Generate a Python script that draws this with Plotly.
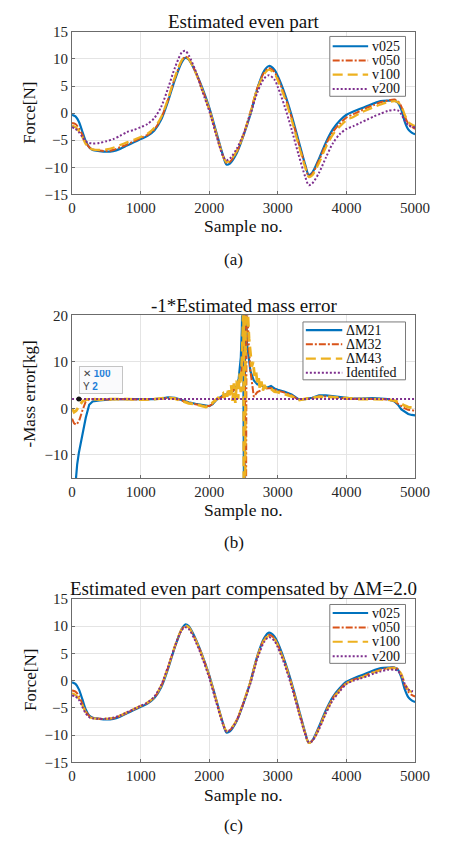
import plotly.graph_objects as go

W, H = 455, 845

# ---------------- data ----------------
sample_grid = [0, 50, 100, 150, 200, 250, 300, 400, 500, 600, 700, 800, 900, 1000, 1100, 1200,
               1300, 1400, 1500, 1600, 1650, 1700, 1800, 1900, 2000, 2100, 2200, 2250, 2300, 2400,
               2500, 2600, 2700, 2800, 2870, 2950, 3000, 3100, 3200, 3300, 3400, 3450, 3500, 3600,
               3700, 3800, 3900, 4000, 4100, 4200, 4300, 4400, 4500, 4600, 4700, 4750, 4800, 4850,
               4900, 4950, 5000]

# (a) Estimated even part
even_v025 = [-0.3, -0.6, -1.6, -3.4, -5.2, -6.3, -6.8, -7.0, -7.1, -7.0, -6.6, -6.0, -5.4, -4.8, -4.2, -3.2,
             -1.2, 2.2, 6.2, 9.4, 10.2, 9.9, 7.6, 4.6, 1.0, -3.4, -7.8, -9.5, -9.3, -7.4,
             -4.1, -0.2, 4.5, 7.8, 8.7, 8.0, 6.8, 3.6, -0.4, -5.0, -9.6, -11.4, -11.0, -8.4,
             -5.4, -3.0, -1.4, -0.3, 0.3, 0.8, 1.3, 1.8, 2.2, 2.3, 2.3, 1.9, 0.6, -1.6,
             -3.0, -3.6, -3.9]
even_v050 = [-1.8, -2.0, -2.8, -4.0, -5.4, -6.3, -6.7, -6.9, -7.0, -6.8, -6.3, -5.8, -5.2, -4.6, -4.0, -3.0,
             -0.9, 2.5, 6.5, 9.7, 10.4, 10.0, 7.6, 4.4, 0.8, -3.6, -7.9, -9.2, -9.0, -7.2,
             -4.0, 0.2, 4.6, 7.5, 8.3, 7.6, 6.4, 3.2, -0.8, -5.4, -9.8, -11.6, -11.2, -8.7,
             -5.8, -3.5, -2.0, -0.8, -0.2, 0.4, 1.0, 1.5, 2.0, 2.3, 2.5, 2.2, 1.2, -0.6,
             -1.9, -2.5, -2.9]
even_v100 = [-2.3, -2.6, -3.3, -4.4, -5.7, -6.4, -6.7, -6.8, -6.7, -6.4, -5.9, -5.4, -4.9, -4.4, -3.8, -2.7,
             -0.7, 2.7, 6.7, 9.8, 10.4, 10.0, 7.5, 4.2, 0.6, -3.8, -7.9, -9.0, -8.8, -7.0,
             -3.9, 0.1, 4.4, 7.2, 8.0, 7.3, 6.0, 2.8, -1.2, -5.8, -10.1, -11.8, -11.5, -9.2,
             -6.3, -4.0, -2.5, -1.3, -0.7, 0.0, 0.6, 1.1, 1.6, 2.0, 2.2, 2.0, 1.3, -0.3,
             -1.6, -2.1, -2.4]
even_v200 = [-2.6, -2.9, -3.5, -4.4, -5.2, -5.5, -5.6, -5.5, -5.2, -4.8, -4.2, -3.5, -3.1, -2.6, -2.0, -0.9,
             1.2, 4.6, 8.4, 11.2, 11.5, 10.7, 7.8, 4.0, 0.4, -4.0, -7.9, -8.7, -8.4, -6.6,
             -3.8, -0.2, 3.8, 6.4, 7.0, 6.2, 4.8, 1.2, -3.0, -7.6, -11.8, -13.3, -13.0, -11.0,
             -8.2, -5.6, -3.9, -2.9, -2.4, -1.8, -1.2, -0.6, -0.1, 0.4, 0.6, 0.5, -0.2, -1.4,
             -2.2, -2.5, -2.6]

# (c) Estimated even part compensated by dM = 2.0
comp_v025 = [-0.3, -0.6, -1.6, -3.4, -5.3, -6.4, -6.8, -7.0, -7.1, -7.0, -6.6, -6.0, -5.4, -4.8, -4.2, -3.2,
             -1.2, 2.2, 6.2, 9.5, 10.3, 10.0, 7.7, 4.6, 1.0, -3.4, -7.8, -9.5, -9.3, -7.4,
             -4.1, -0.2, 4.5, 7.8, 8.8, 8.1, 6.9, 3.6, -0.4, -5.0, -9.6, -11.4, -11.0, -8.4,
             -5.4, -3.0, -1.4, -0.2, 0.4, 0.9, 1.4, 1.9, 2.3, 2.4, 2.4, 2.0, 0.6, -1.6,
             -3.0, -3.6, -3.9]
comp_v050 = [-1.8, -2.0, -2.8, -4.2, -5.6, -6.5, -6.8, -7.0, -7.0, -6.9, -6.5, -5.9, -5.3, -4.7, -4.1, -3.1,
             -1.0, 2.4, 6.3, 9.4, 10.0, 9.8, 7.5, 4.5, 0.9, -3.5, -7.9, -9.3, -9.1, -7.3,
             -4.0, -0.1, 4.4, 7.6, 8.4, 7.8, 6.6, 3.4, -0.6, -5.2, -9.7, -11.4, -11.0, -8.6,
             -5.6, -3.2, -1.6, -0.4, 0.2, 0.6, 1.1, 1.6, 2.0, 2.3, 2.4, 2.1, 1.0, -0.8,
             -2.0, -2.6, -2.9]
comp_v100 = [-2.3, -2.6, -3.3, -4.5, -5.8, -6.6, -6.9, -7.0, -7.0, -6.8, -6.4, -5.8, -5.2, -4.6, -4.0, -3.0,
             -0.9, 2.5, 6.4, 9.5, 10.1, 9.8, 7.5, 4.4, 0.8, -3.6, -7.9, -9.2, -9.0, -7.2,
             -3.9, -0.2, 4.3, 7.4, 8.2, 7.6, 6.4, 3.2, -0.8, -5.4, -9.8, -11.4, -11.1, -8.8,
             -5.8, -3.4, -1.8, -0.5, 0.1, 0.5, 1.0, 1.5, 1.9, 2.2, 2.3, 2.1, 1.2, -0.5,
             -1.6, -2.1, -2.3]
comp_v200 = [-2.7, -2.9, -3.5, -4.8, -6.0, -6.7, -6.9, -7.0, -7.0, -6.8, -6.4, -5.8, -5.2, -4.6, -4.0, -2.9,
             -0.8, 2.6, 6.3, 9.3, 9.8, 9.5, 7.2, 4.1, 0.5, -3.9, -8.0, -9.3, -9.1, -7.3,
             -4.1, -0.5, 4.0, 7.1, 8.0, 7.3, 6.1, 2.9, -1.1, -5.6, -9.9, -11.3, -11.1, -8.9,
             -6.0, -3.6, -2.0, -0.6, 0.0, 0.4, 0.8, 1.3, 1.7, 2.0, 2.0, 1.8, 0.9, -0.6,
             -1.6, -1.9, -2.0]

# (b) -1 * Estimated mass error
dm21_x = [0, 25, 50, 75, 100, 150, 200, 250, 300, 400, 500, 600, 700, 800, 900, 1000, 1100, 1200, 1300,
          1400, 1500, 1600, 1700, 1800, 1900, 2000, 2050, 2100, 2200, 2300, 2350, 2400, 2430, 2460, 2475,
          2490, 2500, 2510, 2525, 2550, 2600, 2650, 2700, 2750, 2800, 2850, 2900, 2950, 3000, 3100, 3200,
          3300, 3400, 3500, 3600, 3700, 3800, 3900, 4000, 4100, 4200, 4300, 4400, 4500, 4600, 4700, 4750,
          4800, 4850, 4900, 4950, 5000]
dm21_y = [-25, -20, -15, -12, -9.5, -5.5, -2.0, 0.8, 1.5, 1.7, 1.9, 2.0, 2.0, 2.0, 1.9, 1.9, 1.9, 2.0, 2.1,
          2.4, 2.3, 1.8, 1.3, 1.0, 0.7, 0.5, 0.9, 1.8, 2.8, 3.4, 3.8, 4.8, 6.5, 11, 17,
          30, -30, -30, 30, 14, 8, 6, 5.2, 4.9, 4.7, 4.5, 4.8, 4.3, 4.0, 3.6, 3.0,
          2.0, 2.0, 2.3, 2.8, 2.8, 2.6, 2.4, 2.2, 2.1, 2.1, 2.2, 2.2, 2.1, 2.0, 1.5, 0.8,
          -0.2, -0.8, -1.2, -1.4, -1.5]
dm32_x = [0, 30, 60, 100, 150, 200, 250, 300, 400, 600, 800, 1000, 1200, 1300, 1400, 1500, 1600, 1700,
          1800, 1900, 2000, 2050, 2100, 2200, 2300, 2400, 2450, 2480, 2500, 2515, 2525, 2535, 2545, 2570,
          2600, 2650, 2700, 2800, 2900, 3000, 3100, 3200, 3300, 3400, 3500, 3600, 3700, 3800, 3900, 4000,
          4200, 4400, 4500, 4600, 4700, 4750, 4800, 4850, 4900, 4950, 5000]
dm32_y = [-2.2, -3.2, -3.5, -2.8, -0.5, 1.5, 1.9, 2.0, 1.9, 2.0, 2.0, 1.9, 2.0, 2.1, 2.3, 2.2, 1.7, 1.2,
          0.9, 0.6, 0.5, 1.0, 1.8, 2.6, 3.2, 4.5, 6.0, 9.0, 14, 30, -30, -30, 30, 15,
          8, 2.5, 3.5, 4.2, 4.4, 3.8, 3.4, 2.8, 1.9, 2.0, 2.2, 2.6, 2.6, 2.5, 2.3, 2.1,
          2.1, 2.1, 2.0, 1.9, 1.6, 1.0, 0.4, 0.0, -0.3, -0.4, -0.5]
dm43_x = [0, 30, 60, 100, 150, 200, 300, 400, 500, 600, 800, 1000, 1200, 1300, 1400, 1500, 1600, 1700,
          1800, 1900, 1950, 2000, 2050, 2100, 2150, 2200, 2220, 2240, 2260, 2280, 2300, 2320, 2340, 2360,
          2380, 2400, 2420, 2440, 2460, 2475, 2490, 2500, 2505, 2520, 2530, 2545, 2560, 2580, 2600, 2620,
          2640, 2660, 2680, 2700, 2720, 2740, 2760, 2780, 2800, 2850, 2900, 2950, 3000, 3100, 3200, 3300,
          3400, 3500, 3600, 3700, 3800, 3900, 4000, 4200, 4400, 4500, 4600, 4700, 4750, 4800, 4850, 4900,
          4950, 5000]
dm43_y = [0.0, -0.8, -0.5, 0.3, 1.5, 1.9, 2.0, 1.9, 2.0, 2.0, 2.0, 1.9, 2.0, 2.1, 2.3, 2.1, 1.6, 1.1,
          0.9, 0.6, 0.3, 0.6, 1.2, 2.0, 2.4, 3.2, 2.2, 3.8, 2.5, 4.4, 2.8, 5.0, 1.6, 5.4,
          1.2, 6.0, 2.0, 7.5, 3.5, 11.0, 17, 30, -30, -30, 30, 26, 20, 15, 12.0, 9.0,
          10.0, 7.0, 8.0, 5.5, 6.5, 4.0, 5.8, 3.8, 5.0, 4.0, 4.2, 3.6, 3.5, 3.1, 2.6, 1.8,
          2.0, 2.2, 2.5, 2.5, 2.4, 2.2, 2.1, 2.0, 2.0, 2.0, 1.9, 1.7, 1.3, 0.9, 0.6, 0.3,
          0.1, 0.0]
ident_x = [0, 5000]
ident_y = [2.0, 2.0]
datatip_x = [100]
datatip_y = [2]

speed_names = ["v025", "v050", "v100", "v200"]
mass_names = ["\u0394M21", "\u0394M32", "\u0394M43", "Identifed"]
x_ticks = [0, 1000, 2000, 3000, 4000, 5000]
force_ticks = [-15, -10, -5, 0, 5, 10, 15]
mass_ticks = [-10, 0, 10, 20]

for arr in (even_v025, even_v050, even_v100, even_v200, comp_v025, comp_v050, comp_v100, comp_v200):
    assert len(arr) == len(sample_grid)
assert len(dm21_x) == len(dm21_y) and len(dm32_x) == len(dm32_y) and len(dm43_x) == len(dm43_y)

# ---------------- styles ----------------
SERIF = "Liberation Serif, Times New Roman, serif"
styles = [
    dict(color="#0072BD", width=2.2, dash="solid"),
    dict(color="#D95319", width=2.0, dash="7px,2px,2px,2px"),
    dict(color="#EDB120", width=2.2, dash="10px,5px"),
    dict(color="#7E2F8E", width=2.0, dash="2px,2px"),
]


def px(x):
    return x / W


def py(y):
    return 1 - y / H


X0, X1 = 71, 429
panels = [(24.3, 190.0), (313.3, 479.3), (602.3, 769.0)]

fig = go.Figure()

even_sets = [even_v025, even_v050, even_v100, even_v200]
comp_sets = [comp_v025, comp_v050, comp_v100, comp_v200]
for i, ys in enumerate(even_sets):
    fig.add_trace(go.Scatter(x=sample_grid, y=ys, mode="lines", name=speed_names[i],
                             line=dict(shape="spline", smoothing=0.8, **styles[i]),
                             xaxis="x", yaxis="y", showlegend=False))
mass_sets = [(dm21_x, dm21_y), (dm32_x, dm32_y), (dm43_x, dm43_y), (ident_x, ident_y)]
for i, (xs, ys) in enumerate(mass_sets):
    st = dict(styles[i])
    if i == 2:
        st["width"] = 2.8
    fig.add_trace(go.Scatter(x=xs, y=ys, mode="lines", name=mass_names[i], line=st,
                             xaxis="x2", yaxis="y2", showlegend=False))
fig.add_trace(go.Scatter(x=datatip_x, y=datatip_y, mode="markers",
                         marker=dict(color="#111111", size=5), xaxis="x2", yaxis="y2",
                         showlegend=False))
for i, ys in enumerate(comp_sets):
    fig.add_trace(go.Scatter(x=sample_grid, y=ys, mode="lines", name=speed_names[i],
                             line=dict(shape="spline", smoothing=0.8, **styles[i]),
                             xaxis="x3", yaxis="y3", showlegend=False))

axis_common = dict(showline=True, mirror=True, linecolor="#6b6b6b", linewidth=1,
                   showgrid=True, gridcolor="#e4e4e4", gridwidth=1, zeroline=False,
                   ticks="inside", ticklen=3, tickcolor="#6b6b6b",
                   tickfont=dict(family=SERIF, size=15, color="#262626"))

layout = dict(width=W, height=H, margin=dict(l=0, r=0, t=0, b=0),
              paper_bgcolor="white", plot_bgcolor="white", showlegend=False)
suffixes = ["", "2", "3"]
yranges = [[-15, 15], [-15, 20], [-15, 15]]
yticks = [force_ticks, mass_ticks, force_ticks]
for k, (top, bot) in enumerate(panels):
    s = suffixes[k]
    layout["xaxis" + s] = dict(axis_common, domain=[px(X0), px(X1)], range=[0, 5000],
                               tickvals=x_ticks, anchor="y" + s)
    layout["yaxis" + s] = dict(axis_common, domain=[py(bot), py(top)], range=yranges[k],
                               tickvals=yticks[k], anchor="x" + s)
fig.update_layout(**layout)

ann = []
shapes = []


def text(x, y, t, size, angle=0, anchor="center", family=SERIF, color="#111111"):
    ann.append(dict(x=px(x), y=py(y), xref="paper", yref="paper", text=t, showarrow=False,
                    xanchor=anchor, yanchor="middle", textangle=angle,
                    font=dict(family=family, size=size, color=color)))


titles = ["Estimated even part", "-1*Estimated mass error",
          "Estimated even part compensated by \u0394M=2.0"]
title_y = [14, 303, 592]
for k in range(3):
    text(250, title_y[k], titles[k], 19)
    text(250, [222.5, 512, 802][k], "Sample no.", 17.5)
    text(240, [256, 545, 833][k], ["(a)", "(b)", "(c)"][k], 17)
text(27, 107, "Force[N]", 17, angle=-90)
text(27, 393, "-Mass error[kg]", 17, angle=-90)
text(27, 685, "Force[N]", 17, angle=-90)


def legend(box, rows, names, line_x):
    x0, y0, x1, y1 = box
    shapes.append(dict(type="rect", xref="paper", yref="paper", x0=px(x0), x1=px(x1),
                       y0=py(y1), y1=py(y0), line=dict(color="#7a7a7a", width=1),
                       fillcolor="white"))
    for i, (r, nm) in enumerate(zip(rows, names)):
        st = dict(styles[i])
        shapes.append(dict(type="line", xref="paper", yref="paper",
                           x0=px(line_x[0]), x1=px(line_x[1]), y0=py(r), y1=py(r), line=st))
        text(line_x[1] + 2, r, nm, 14, anchor="left")


legend((340, 29, 419, 90), [39, 53.5, 68, 82.5], speed_names, (343, 380))
legend((312, 320, 419, 379), [328.3, 342.7, 357.3, 371.7], mass_names, (315, 353))
legend((340, 608, 419, 668), [616.7, 631.5, 646, 660.7], speed_names, (343, 380))

# data tip box
ann.append(dict(x=px(101.5), y=py(379.5), xref="paper", yref="paper", showarrow=False,
                text="\u2715 <b><span style='color:#1f7fd8'>100</span></b><br>Y <b><span style='color:#1f7fd8'>2</span></b>",
                align="left", xanchor="center", yanchor="middle", width=36, height=20,
                bgcolor="rgba(250,250,252,0.95)", bordercolor="#c4c4c4", borderwidth=1, borderpad=3,
                font=dict(family="Liberation Sans, Arial, sans-serif", size=10, color="#444444")))

fig.update_layout(annotations=ann, shapes=shapes)
fig.write_html("out.html")
